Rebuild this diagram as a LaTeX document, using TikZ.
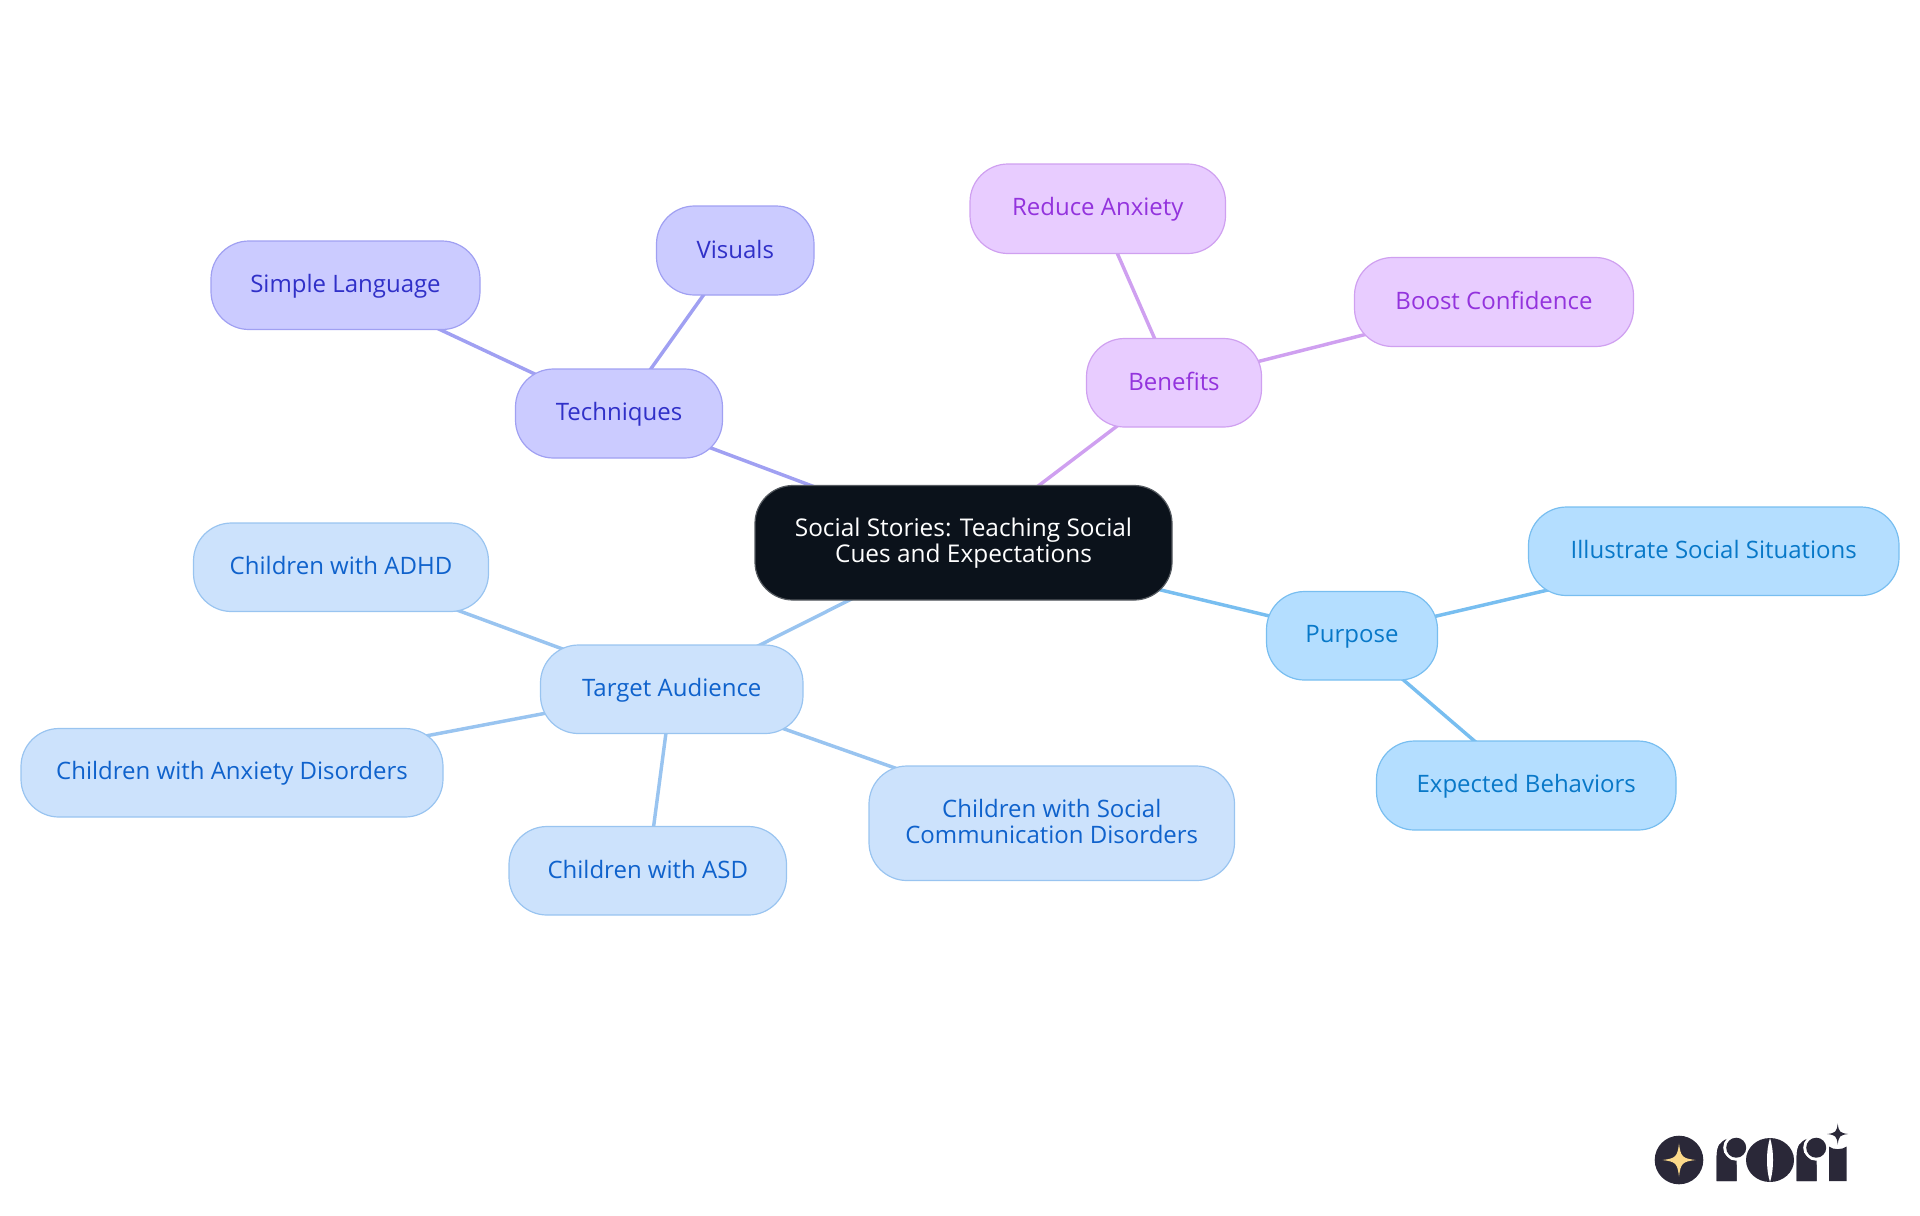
\documentclass[tikz,border=0pt]{standalone}
\usepackage{fontspec}
\setmainfont{Open Sans}
\usetikzlibrary{backgrounds}
\definecolor{rootfill}{HTML}{0B121B}
\definecolor{rootline}{HTML}{555A60}
\definecolor{techfill}{HTML}{CBCBFF}
\definecolor{techline}{HTML}{A0A0F2}
\definecolor{techtext}{HTML}{3030C8}
\definecolor{benefill}{HTML}{E8CCFF}
\definecolor{beneline}{HTML}{CFA0F0}
\definecolor{benetext}{HTML}{9333DD}
\definecolor{targfill}{HTML}{CCE2FC}
\definecolor{targline}{HTML}{99C4F0}
\definecolor{targtext}{HTML}{0F62CC}
\definecolor{purpfill}{HTML}{B4DEFF}
\definecolor{purpline}{HTML}{78BEF0}
\definecolor{purptext}{HTML}{0878C8}
\definecolor{logodark}{HTML}{2A2838}
\definecolor{logogold}{HTML}{FBD98A}
\tikzset{
  x=0.75pt,y=-0.75pt,
  mm/.style={draw,rectangle,rounded corners=28.5pt,line width=0.9pt,align=center,inner sep=0pt,
    font=\fontsize{18pt}{19.5pt}\selectfont},
  rootn/.style={mm,fill=rootfill,draw=rootline,text=white,font=\fontsize{18.3pt}{19.5pt}\selectfont},
  techn/.style={mm,fill=techfill,draw=techline,text=techtext},
  benen/.style={mm,fill=benefill,draw=beneline,text=benetext},
  targn/.style={mm,fill=targfill,draw=targline,text=targtext},
  purpn/.style={mm,fill=purpfill,draw=purpline,text=purptext},
  techl/.style={draw=techline,line width=2.6pt},
  benel/.style={draw=beneline,line width=2.6pt},
  targl/.style={draw=targline,line width=2.6pt},
  purpl/.style={draw=purpline,line width=2.6pt},
}
\newcommand{\tl}{\rule[-3pt]{0pt}{17.55pt}}
\newcommand{\boxnode}[7]{% style, name, x0,y0,x1,y1, text
  \pgfmathsetmacro{\boxw}{(#5-#3)*0.75}\pgfmathsetmacro{\boxh}{(#6-#4)*0.75}
  \node[#1,minimum width=\boxw pt,minimum height=\boxh pt] (#2) at ({(#3+#5)/2},{(#4+#6)/2}) {#7};}
\newcommand{\foursta}[4]{% cx cy r colour
  \fill[#4] (#1-#3,#2) .. controls (#1-#3*0.2,#2-#3*0.1) and (#1-#3*0.1,#2-#3*0.2) .. (#1,#2-#3)
   .. controls (#1+#3*0.1,#2-#3*0.2) and (#1+#3*0.2,#2-#3*0.1) .. (#1+#3,#2)
   .. controls (#1+#3*0.2,#2+#3*0.1) and (#1+#3*0.1,#2+#3*0.2) .. (#1,#2+#3)
   .. controls (#1-#3*0.1,#2+#3*0.2) and (#1-#3*0.2,#2+#3*0.1) .. (#1-#3,#2) -- cycle;}
\newcommand{\logor}[1]{% left x of an r glyph
  \fill[logodark] (#1,1181) -- (#1,1156) .. controls (#1,1146) and (#1+5,1139) .. (#1+14,1138)
    -- (#1+20,1147) -- (#1+20,1181) -- cycle;
  \fill[white] (#1+19.5,1147.7) circle[radius=13];
  \fill[logodark] (#1+19.5,1147.7) circle[radius=10];
  \fill[logodark] (#1,1181) -- (#1,1156) .. controls (#1,1151) and (#1+1,1146) .. (#1+3,1144)
    .. controls (#1+7,1156) and (#1+14,1160) .. (#1+20,1165) -- (#1+20,1181) -- cycle;}
\begin{document}
\begin{tikzpicture}
\useasboundingbox (0,0) rectangle (1920,1215);

\boxnode{rootn}{root}{755}{485.5}{1172}{600}{\tl Social Stories: Teaching Social\\\tl Cues and Expectations}
\boxnode{techn}{tech}{515.5}{369}{722.5}{458}{\tl Techniques}
\boxnode{techn}{simple}{211}{241}{480}{329.5}{\tl Simple Language}
\boxnode{techn}{visuals}{656.5}{206}{814}{295}{\tl Visuals}
\boxnode{benen}{bene}{1086.5}{338.5}{1261.5}{427}{\tl Benefits}
\boxnode{benen}{anxiety}{970}{164}{1225.5}{253.5}{\tl Reduce Anxiety}
\boxnode{benen}{boost}{1354.5}{257.5}{1633.5}{346.5}{\tl Boost Confidence}
\boxnode{purpn}{purp}{1266.5}{591.5}{1437.5}{680}{\tl Purpose}
\boxnode{purpn}{illus}{1528.5}{507}{1899}{595.5}{\tl Illustrate Social Situations}
\boxnode{purpn}{expect}{1376.5}{741}{1676}{830}{\tl Expected Behaviors}
\boxnode{targn}{targ}{540.5}{645}{803}{733.5}{\tl Target Audience}
\boxnode{targn}{adhd}{193.5}{523}{488.5}{611.5}{\tl Children with ADHD}
\boxnode{targn}{anx}{21}{728.5}{443}{817}{\tl Children with Anxiety Disorders}
\boxnode{targn}{asd}{509}{826.5}{786.5}{915}{\tl Children with ASD}
\boxnode{targn}{comm}{869}{766}{1234.5}{880.5}{\tl Children with Social\\\tl Communication Disorders}

\begin{scope}[on background layer]
\draw[techl] (root.center) -- (tech.center);
\draw[techl] (tech.center) -- (simple.center);
\draw[techl] (tech.center) -- (visuals.center);
\draw[benel] (root.center) -- (bene.center);
\draw[benel] (bene.center) -- (anxiety.center);
\draw[benel] (bene.center) -- (boost.center);
\draw[purpl] (root.center) -- (purp.center);
\draw[purpl] (purp.center) -- (illus.center);
\draw[purpl] (purp.center) -- (expect.center);
\draw[targl] (root.center) -- (targ.center);
\draw[targl] (targ.center) -- (adhd.center);
\draw[targl] (targ.center) -- (anx.center);
\draw[targl] (targ.center) -- (asd.center);
\draw[targl] (targ.center) -- (comm.center);
\end{scope}

% logo
\fill[logodark] (1679,1160) circle[radius=24.3];
\foursta{1679}{1160}{16.5}{logogold}
\logor{1716.7}
\fill[logodark] (1770,1160) ellipse[x radius=24,y radius=22];
\fill[white] (1770,1138) .. controls (1766,1150) and (1766,1170) .. (1770,1182)
  .. controls (1774,1170) and (1774,1150) .. (1770,1138) -- cycle;
\logor{1796.7}
\fill[logodark] (1829,1181) -- (1829,1146.5) .. controls (1833,1150) and (1842,1150) .. (1846.7,1146.5) -- (1846.7,1181) -- cycle;
\foursta{1837.7}{1134}{10.5}{logodark}
\end{tikzpicture}
\end{document}
